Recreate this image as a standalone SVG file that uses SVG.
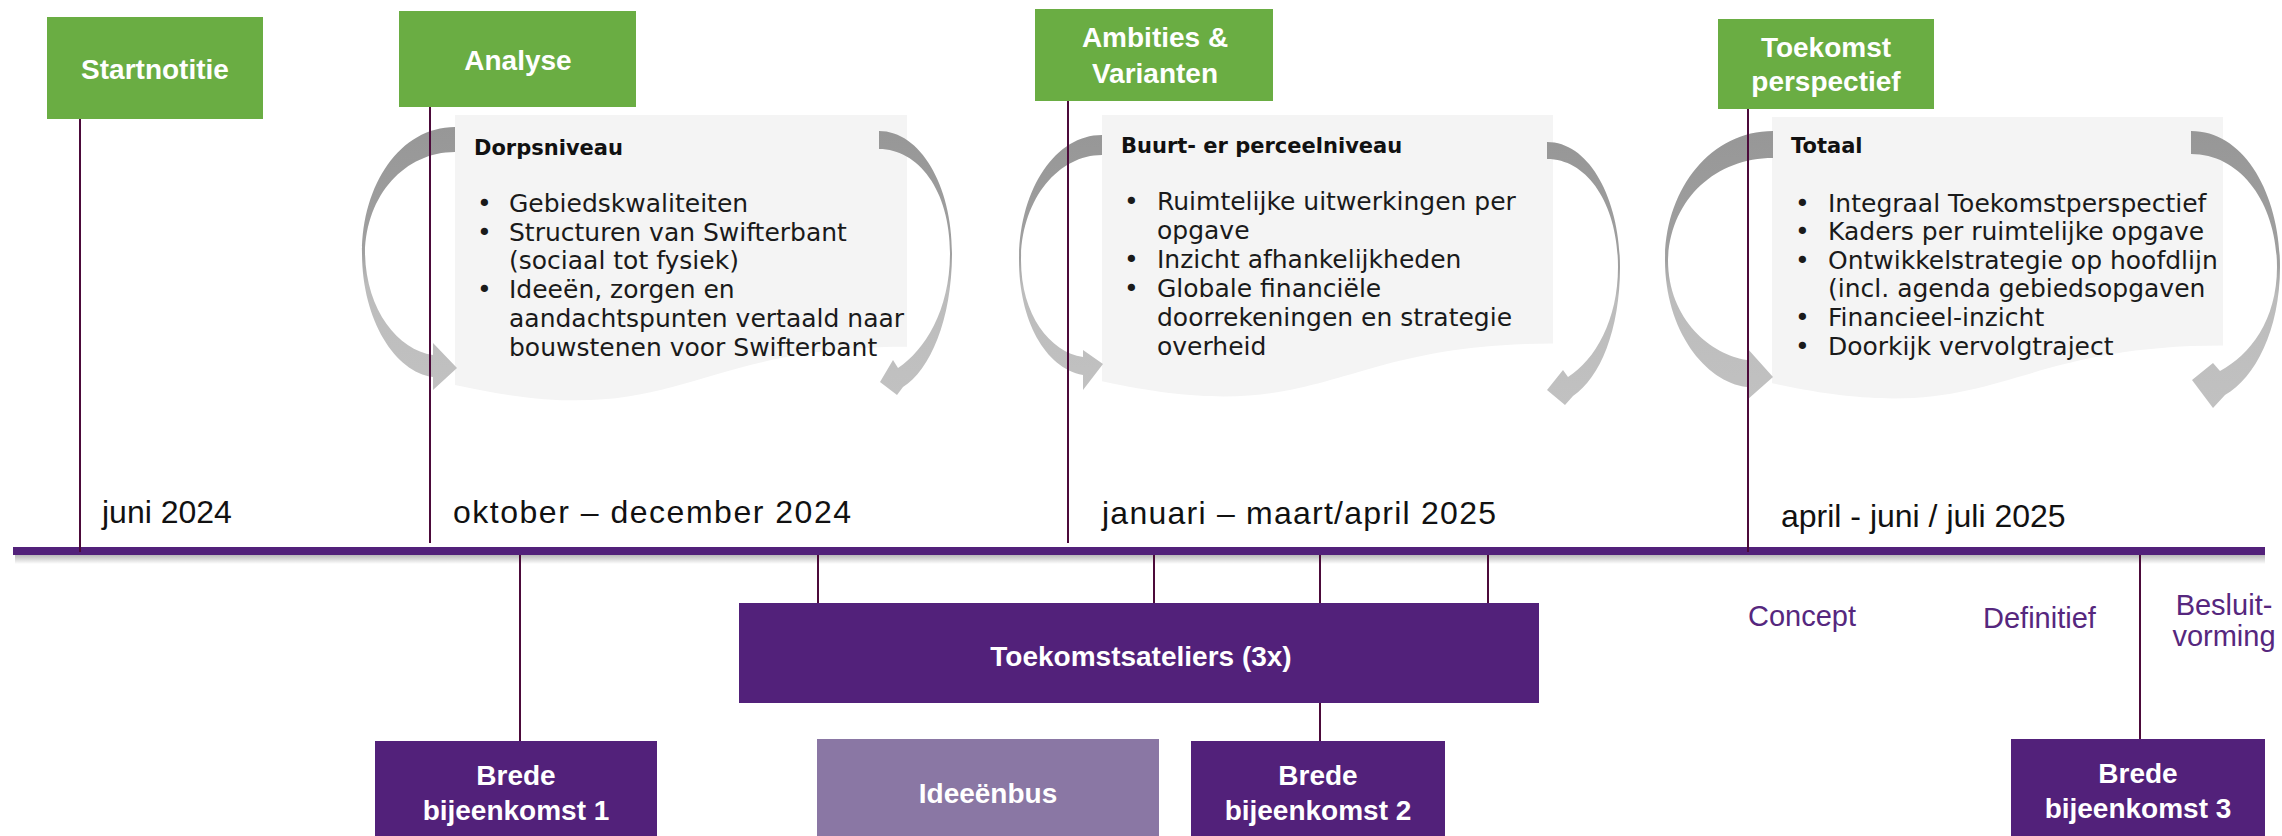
<svg xmlns="http://www.w3.org/2000/svg" width="2282" height="836" viewBox="0 0 2282 836">
<style>
  .green{fill:#6aad43}
  .purple{fill:#52217a}
  .lilac{fill:#8a77a4}
  .doc{fill:#f4f4f4}
  .ttl{font-family:"Liberation Sans",Arial,sans-serif;font-weight:bold;font-size:28px;fill:#ffffff;text-anchor:middle}
  .head{font-family:"DejaVu Sans","Liberation Sans",sans-serif;font-weight:bold;font-size:21px;fill:#111111}
  .body{font-family:"DejaVu Sans","Liberation Sans",sans-serif;font-size:25px;fill:#1a1a1a}
  .date{font-family:"Liberation Sans",Arial,sans-serif;font-size:32px;fill:#111111}
  .stage{font-family:"Liberation Sans",Arial,sans-serif;font-size:29px;fill:#56277e}
  .vl{stroke:#4c0a3a;stroke-width:2;fill:none}
  .arrow{fill:url(#ag)}
</style>
<defs>
  <linearGradient id="ag" x1="0" y1="0" x2="0" y2="1">
    <stop offset="0" stop-color="#979797"/>
    <stop offset="0.48" stop-color="#a0a0a0"/>
    <stop offset="0.6" stop-color="#bcbcbc"/>
    <stop offset="1" stop-color="#c1c1c1"/>
  </linearGradient>
  <linearGradient id="sh" x1="0" y1="0" x2="0" y2="1">
    <stop offset="0" stop-color="#000" stop-opacity="0.28"/>
    <stop offset="1" stop-color="#000" stop-opacity="0"/>
  </linearGradient>
</defs>
<rect width="2282" height="836" fill="#ffffff"/>

<!-- text boxes (document shapes) -->
<g id="box-dorpsniveau">
  <path class="doc" d="M455,115 H907 V346.8 C681,346.8 681,435 455,385 Z"/>
  <text class="head" x="474" y="155">Dorpsniveau</text>
  <g class="body">
    <text x="477" y="212">•</text><text x="509" y="212">Gebiedskwaliteiten</text>
    <text x="477" y="241">•</text><text x="509" y="241">Structuren van Swifterbant</text>
    <text x="509" y="269">(sociaal tot fysiek)</text>
    <text x="477" y="298">•</text><text x="509" y="298">Ideeën, zorgen en</text>
    <text x="509" y="327">aandachtspunten vertaald naar</text>
    <text x="509" y="356">bouwstenen voor Swifterbant</text>
  </g>
</g>
<g id="box-buurtniveau">
  <path class="doc" d="M1102,115 H1553 V343.6 C1327.5,343.6 1327.5,430.6 1102,381.2 Z"/>
  <text class="head" x="1121" y="153">Buurt- er perceelniveau</text>
  <g class="body">
    <text x="1124" y="210">•</text><text x="1157" y="210">Ruimtelijke uitwerkingen per</text>
    <text x="1157" y="239">opgave</text>
    <text x="1124" y="268">•</text><text x="1157" y="268">Inzicht afhankelijkheden</text>
    <text x="1124" y="297">•</text><text x="1157" y="297">Globale financiële</text>
    <text x="1157" y="326">doorrekeningen en strategie</text>
    <text x="1157" y="355">overheid</text>
  </g>
</g>
<g id="box-totaal">
  <path class="doc" d="M1772,117 H2223 V345.6 C1997.5,345.6 1997.5,432.6 1772,383.2 Z"/>
  <text class="head" x="1791" y="153">Totaal</text>
  <g class="body">
    <text x="1795" y="212">•</text><text x="1828" y="212">Integraal Toekomstperspectief</text>
    <text x="1795" y="240">•</text><text x="1828" y="240">Kaders per ruimtelijke opgave</text>
    <text x="1795" y="269">•</text><text x="1828" y="269">Ontwikkelstrategie op hoofdlijn</text>
    <text x="1828" y="297">(incl. agenda gebiedsopgaven</text>
    <text x="1795" y="326">•</text><text x="1828" y="326">Financieel-inzicht</text>
    <text x="1795" y="355">•</text><text x="1828" y="355">Doorkijk vervolgtraject</text>
  </g>
</g>

<!-- cycle arrows -->
<g id="cycle-arrows">
  <path class="arrow" d="M455,127 C400,127 362,185 362,253 C362,320 395,372 433,377 L433,390 L457,368 L433,343 L433,355 C398,350 366,310 365,253 C366,195 405,152 455,152 Z"/>
  <path class="arrow" d="M879,131 C920,131 952,185 952,253 C952,320 930,370 903,387 L897,395 L880,382 L893,360 L898,368 C925,350 950,310 950,253 C950,190 918,149 879,149 Z"/>
  <path class="arrow" d="M1102,135 C1055,135 1019,190 1019,260 C1019,320 1045,368 1083,375 L1083,390 L1103,364 L1083,350 L1083,357 C1050,352 1021,315 1021,260 C1021,200 1058,155 1102,155 Z"/>
  <path class="arrow" d="M1547,142 C1590,142 1620,200 1620,267 C1620,330 1600,378 1573,396 L1565,405 L1547,390 L1563,370 L1568,377 C1595,360 1618,320 1618,267 C1618,205 1588,159 1547,159 Z"/>
  <path class="arrow" d="M1773,131 C1710,131 1665,190 1665,260 C1665,330 1705,382 1747,387 L1747,400 L1773,377 L1747,348 L1747,360 C1712,355 1668,320 1668,260 C1670,200 1715,158 1773,158 Z"/>
  <path class="arrow" d="M2191,131 C2245,131 2280,195 2280,267 C2280,330 2255,378 2225,395 L2213,408 L2192,380 L2213,363 L2220,371 C2250,355 2277,320 2277,267 C2277,205 2242,154 2191,154 Z"/>
</g>

<!-- timeline bar -->
<g id="timeline">
  <rect x="15" y="555" width="2250" height="9" fill="url(#sh)"/>
  <rect x="13" y="547" width="2252" height="8" class="purple"/>
</g>

<!-- connectors -->
<g id="connectors">
  <line class="vl" x1="80" y1="119" x2="80" y2="552"/>
  <line class="vl" x1="430" y1="107" x2="430" y2="543"/>
  <line class="vl" x1="1068" y1="101" x2="1068" y2="543"/>
  <line class="vl" x1="1748" y1="109" x2="1748" y2="552"/>
  <line class="vl" x1="520" y1="555" x2="520" y2="741"/>
  <line class="vl" x1="818" y1="555" x2="818" y2="603"/>
  <line class="vl" x1="1154" y1="555" x2="1154" y2="603"/>
  <line class="vl" x1="1320" y1="555" x2="1320" y2="603"/>
  <line class="vl" x1="1488" y1="555" x2="1488" y2="603"/>
  <line class="vl" x1="1320" y1="703" x2="1320" y2="741"/>
  <line class="vl" x1="2140" y1="555" x2="2140" y2="739"/>
</g>

<!-- phase boxes -->
<g id="startnotitie">
  <rect class="green" x="47" y="17" width="216" height="102"/>
  <text class="ttl" x="155" y="79">Startnotitie</text>
</g>
<g id="analyse">
  <rect class="green" x="399" y="11" width="237" height="96"/>
  <text class="ttl" x="518" y="70">Analyse</text>
</g>
<g id="ambities">
  <rect class="green" x="1035" y="9" width="238" height="92"/>
  <text class="ttl" x="1155" y="47">Ambities &amp;</text>
  <text class="ttl" x="1155" y="83">Varianten</text>
</g>
<g id="toekomstperspectief">
  <rect class="green" x="1718" y="19" width="216" height="90"/>
  <text class="ttl" x="1826" y="57">Toekomst</text>
  <text class="ttl" x="1826" y="91">perspectief</text>
</g>

<!-- date labels -->
<g id="dates">
  <text class="date" x="102" y="523">juni 2024</text>
  <text class="date" x="453" y="523" textLength="398" lengthAdjust="spacing">oktober – december 2024</text>
  <text class="date" x="1102" y="524" textLength="394" lengthAdjust="spacing">januari – maart/april 2025</text>
  <text class="date" x="1781" y="527">april - juni / juli 2025</text>
</g>

<!-- participation boxes -->
<g id="toekomstsateliers">
  <rect class="purple" x="739" y="603" width="800" height="100"/>
  <text class="ttl" x="1141" y="666">Toekomstsateliers (3x)</text>
</g>
<g id="brede1">
  <rect class="purple" x="375" y="741" width="282" height="95"/>
  <text class="ttl" x="516" y="785">Brede</text>
  <text class="ttl" x="516" y="820">bijeenkomst 1</text>
</g>
<g id="ideeenbus">
  <rect class="lilac" x="817" y="739" width="342" height="97"/>
  <text class="ttl" x="988" y="803">Ideeënbus</text>
</g>
<g id="brede2">
  <rect class="purple" x="1191" y="741" width="254" height="95"/>
  <text class="ttl" x="1318" y="785">Brede</text>
  <text class="ttl" x="1318" y="820">bijeenkomst 2</text>
</g>
<g id="brede3">
  <rect class="purple" x="2011" y="739" width="254" height="97"/>
  <text class="ttl" x="2138" y="783">Brede</text>
  <text class="ttl" x="2138" y="818">bijeenkomst 3</text>
</g>

<!-- stage labels -->
<g id="stages">
  <text class="stage" x="1748" y="626">Concept</text>
  <text class="stage" x="1983" y="628">Definitief</text>
  <text class="stage" x="2224" y="615" text-anchor="middle">Besluit-</text>
  <text class="stage" x="2224" y="646" text-anchor="middle">vorming</text>
</g>
</svg>
